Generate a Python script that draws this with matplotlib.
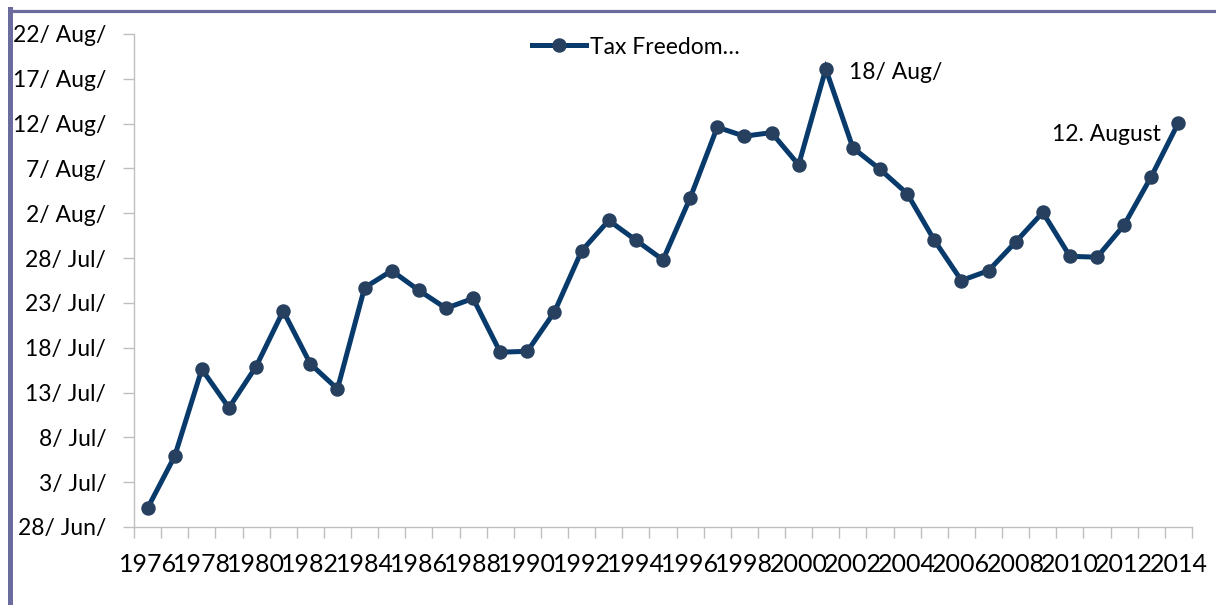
import matplotlib
matplotlib.use('Agg')
import matplotlib.pyplot as plt
from matplotlib.lines import Line2D
import numpy as np

# ---- data ----
years = list(range(1976, 2015))
# Tax freedom day, expressed as days after 28 June
days_after_28_jun = [2.1, 7.9, 17.6, 13.3, 17.9, 24.1, 18.2, 15.4, 26.7, 28.6,
                     26.4, 24.4, 25.5, 19.5, 19.6, 24.0, 30.8, 34.2, 32.0, 29.8,
                     36.7, 44.6, 43.6, 44.0, 40.4, 51.1, 42.3, 39.9, 37.2, 32.0,
                     27.5, 28.6, 31.8, 35.1, 30.2, 30.1, 33.7, 39.1, 45.1]
y_tick_days = [0, 5, 10, 15, 20, 25, 30, 35, 40, 45, 50, 55]
y_tick_labels = ['28/ Jun/', '3/ Jul/', '8/ Jul/', '13/ Jul/', '18/ Jul/', '23/ Jul/',
                 '28/ Jul/', '2/ Aug/', '7/ Aug/', '12/ Aug/', '17/ Aug/', '22/ Aug/']
x_label_years = years[::2]
series_name = 'Tax Freedom…'
point_labels = {2001: '18/ Aug/', 2014: '12. August'}

# ---- style ----
FONT = 'Lato'
FS = 16.5
FSX = 18
LINE_C = '#083a6b'
MARK_C = '#27405f'
AXIS_C = '#bfbfbf'
BORDER_C = '#6b6b9e'

W, H = 1216, 605
fig = plt.figure(figsize=(W / 100, H / 100), dpi=100)
plt.rcParams['font.family'] = [FONT, 'DejaVu Sans']

left, right, top, bottom = 134, 1192, 34, 527
ax = fig.add_axes([left / W, (H - bottom) / H, (right - left) / W, (bottom - top) / H])

idx = np.arange(len(years))
ax.plot(idx, days_after_28_jun, color=LINE_C, lw=3.6, marker='o', ms=9.4,
        markerfacecolor=MARK_C, markeredgecolor=MARK_C, label=series_name,
        solid_joinstyle='miter', clip_on=False, zorder=3)

ax.set_xlim(-0.5, len(years) - 0.5)
ax.set_ylim(y_tick_days[0], y_tick_days[-1])

# y axis
ax.set_yticks(y_tick_days)
ax.set_yticklabels(y_tick_labels, fontsize=FS, family=FONT)
ax.tick_params(axis='y', direction='out', length=8, width=1, color=AXIS_C, pad=12)

# x axis: ticks at category boundaries, labels at every other category
ax.set_xticks(np.arange(-0.5, len(years), 1.0))
ax.set_xticklabels([])
ax.tick_params(axis='x', which='major', direction='out', length=8, width=1, color=AXIS_C)
lab_pos = [years.index(y) for y in x_label_years]
ax.set_xticks(lab_pos, minor=True)
ax.set_xticklabels([str(y) for y in x_label_years], minor=True, fontsize=FSX, family=FONT)
ax.tick_params(axis='x', which='minor', length=0, pad=19)

for s in ['top', 'right']:
    ax.spines[s].set_visible(False)
for s in ['left', 'bottom']:
    ax.spines[s].set_color(AXIS_C)
    ax.spines[s].set_linewidth(1)

# point labels
for yr, txt in point_labels.items():
    i = years.index(yr)
    if yr == 2014:
        ax.annotate(txt, (i, days_after_28_jun[i]), xytext=(-13, -13.5),
                    textcoords='offset points', ha='right', va='baseline',
                    fontsize=FS, family=FONT)
    else:
        ax.annotate(txt, (i, days_after_28_jun[i]), xytext=(17, -7.2),
                    textcoords='offset points', ha='left', va='baseline',
                    fontsize=FS, family=FONT)

# legend
leg = ax.legend(loc='center left', bbox_to_anchor=(532 / W, 1 - 47 / H),
                bbox_transform=fig.transFigure, frameon=False, borderpad=0,
                borderaxespad=0, handlelength=2.35, handletextpad=0.2,
                prop={'family': FONT, 'size': FS})

# outer frame (top and left)
fig.add_artist(Line2D([10 / W, 1.0], [1 - 10.5 / H, 1 - 10.5 / H],
                      transform=fig.transFigure, color=BORDER_C, lw=2.3))
fig.add_artist(Line2D([9.8 / W, 9.8 / W], [1 - 9.3 / H, 0.0],
                      transform=fig.transFigure, color=BORDER_C, lw=3.6))

fig.savefig('out.png', dpi=100)
